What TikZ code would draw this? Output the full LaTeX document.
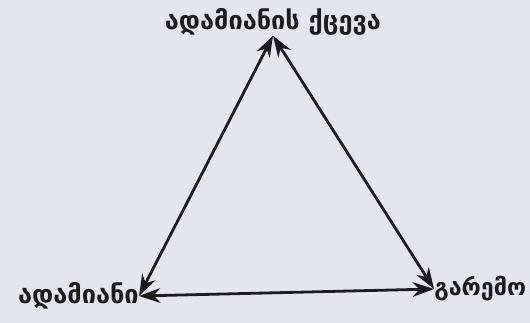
\documentclass[tikz,border=0pt]{standalone}
\usepackage{fontspec}
\setmainfont{DejaVu Sans}
\usetikzlibrary{arrows.meta}
\definecolor{pagegray}{HTML}{E3E6EE}
\definecolor{inkblack}{HTML}{1C1C20}

\begin{document}
\begin{tikzpicture}[x=0.75pt,y=-0.75pt,
  text=inkblack,
  label/.style={inner sep=0pt,font=\fontsize{19}{21}\selectfont\bfseries},
  connector/.style={{Stealth[length=16pt,width=11pt]}-{Stealth[length=16pt,width=11pt]},draw=inkblack,line width=2.1pt}
]
\fill[pagegray] (0,0) rectangle (530,323);
\path[use as bounding box] (0,0) rectangle (530,323);

% Three corners of the triangle
\node[label] (behavior) at (273,22) {ადამიანის ქცევა};
\node[label,anchor=east] (human) at (139,296) {ადამიანი};
\node[label,anchor=west,font=\fontsize{17.5}{20}\selectfont\bfseries] (environment) at (434,289) {გარემო};

% Two-way links
\draw[connector] (behavior.south) -- (human.east);
\draw[connector] (behavior.south) -- (environment.west);
\draw[connector] (human.east) -- (environment.west);

\end{tikzpicture}
\end{document}
